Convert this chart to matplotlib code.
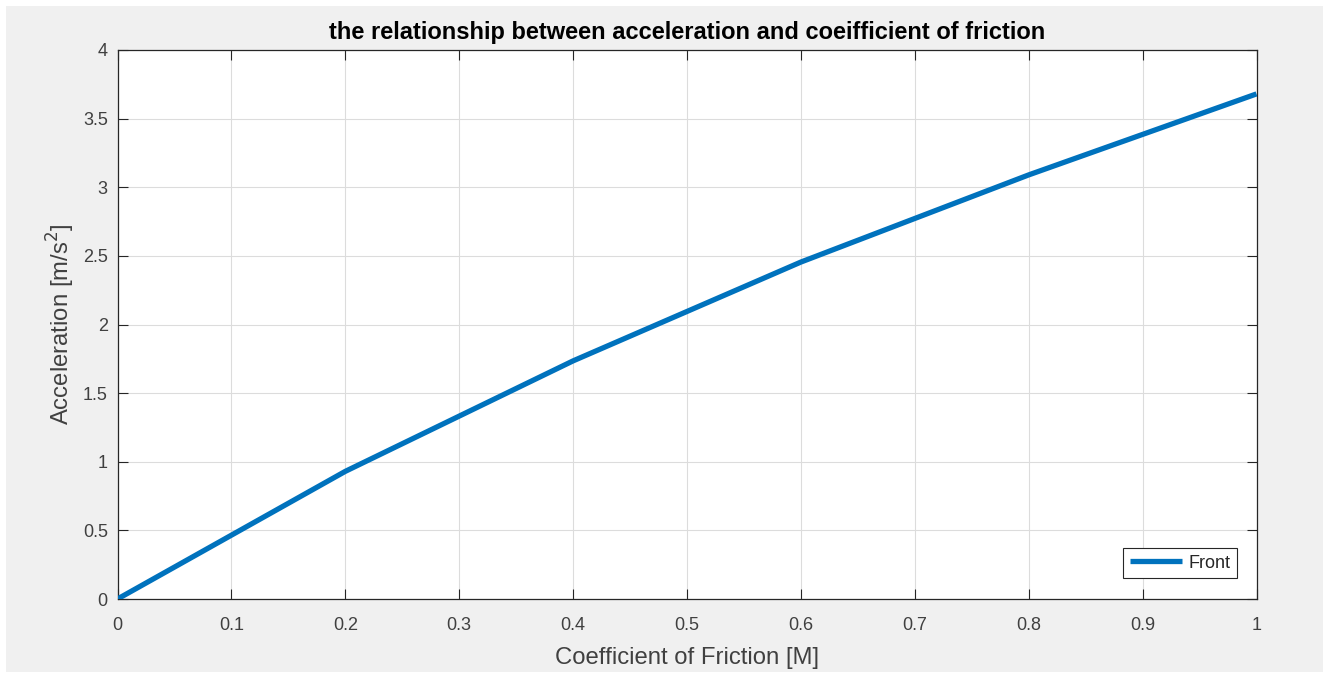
import matplotlib
matplotlib.use("Agg")
import matplotlib.pyplot as plt
from matplotlib.patches import Rectangle

# friction coefficient and resulting acceleration
friction = [0.0, 0.2, 0.4, 0.6, 0.8, 1.0]
acceleration = [0.0, 0.93, 1.735, 2.455, 3.09, 3.68]

x_ticks = [0, 0.1, 0.2, 0.3, 0.4, 0.5, 0.6, 0.7, 0.8, 0.9, 1]
x_tick_labels = ["0", "0.1", "0.2", "0.3", "0.4", "0.5", "0.6", "0.7", "0.8", "0.9", "1"]
y_ticks = [0, 0.5, 1, 1.5, 2, 2.5, 3, 3.5, 4]
y_tick_labels = ["0", "0.5", "1", "1.5", "2", "2.5", "3", "3.5", "4"]

plt.rcParams["font.family"] = ["Liberation Sans", "DejaVu Sans"]
dark = "#262626"
label_grey = "#404040"

W, H = 1330, 673
fig = plt.figure(figsize=(W / 100, H / 100), dpi=100)
fig.patch.set_facecolor("white")
# grey window background inside a thin white margin
fig.patches.append(Rectangle((6 / W, 1 / H), (W - 13) / W, (H - 7) / H,
                             transform=fig.transFigure, facecolor="#f0f0f0",
                             edgecolor="none", zorder=-10))

left, right, top, bottom = 117.5, 1256.5, 50, 599
ax = fig.add_axes([left / W, 1 - bottom / H, (right - left) / W, (bottom - top) / H])
ax.set_facecolor("white")

ax.plot(friction, acceleration, color="#0072BD", linewidth=3.8,
        solid_capstyle="butt", label="Front", zorder=3)

ax.set_xlim(0, 1)
ax.set_ylim(0, 4)
ax.set_xticks(x_ticks)
ax.set_xticklabels(x_tick_labels)
ax.set_yticks(y_ticks)
ax.set_yticklabels(y_tick_labels)
ax.grid(True, color="#dcdcdc", linewidth=0.8)
ax.set_axisbelow(True)

ax.tick_params(direction="in", length=7, width=0.8, color=dark,
               labelcolor=label_grey, labelsize=13, top=True, right=True)
ax.tick_params(axis="y", pad=7)
ax.tick_params(axis="x", pad=13)
for s in ax.spines.values():
    s.set_color(dark)
    s.set_linewidth(0.9)

ax.set_title("the relationship between acceleration and coeifficient of friction",
             fontsize=17, fontweight="bold", color="black", pad=8)
ax.set_xlabel("Coefficient of Friction [M]", fontsize=17.2, color=label_grey, labelpad=9)
ax.set_ylabel("Acceleration [m/s$^2$]", fontsize=17.2, color=label_grey, labelpad=4.5)

leg = ax.legend(loc="lower right", bbox_to_anchor=(0.9825, 0.038), fontsize=13,
                frameon=True, fancybox=False, framealpha=1, edgecolor=dark,
                handlelength=2.9, handletextpad=0.35, borderpad=0.35,
                borderaxespad=0)
leg.get_frame().set_linewidth(0.8)
for t in leg.get_texts():
    t.set_color(dark)

fig.savefig("out.png", dpi=100, facecolor=fig.get_facecolor())
